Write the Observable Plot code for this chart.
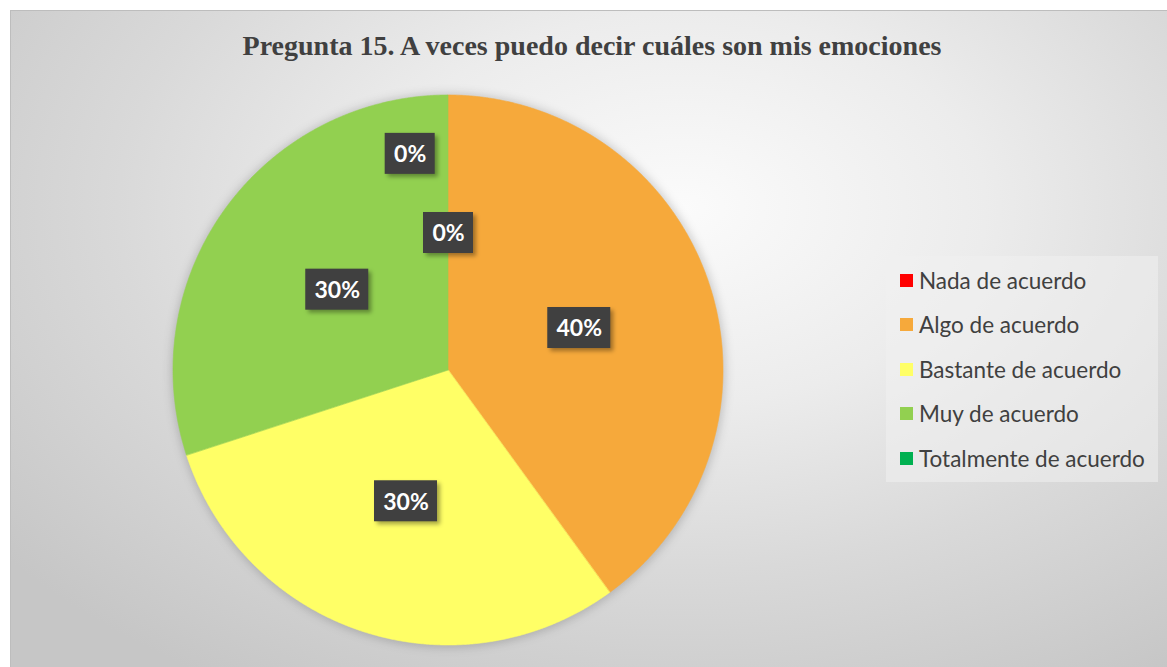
<!DOCTYPE html>
<html>
<head>
<meta charset="utf-8">
<script src="https://cdn.jsdelivr.net/npm/d3@7"></script>
<script src="https://cdn.jsdelivr.net/npm/@observablehq/plot@0.6"></script>
<style>
html, body { margin: 0; padding: 0; background: #ffffff; width: 1167px; height: 667px; overflow: hidden; }
#frame { position: absolute; left: 10px; top: 10px; width: 1157px; height: 657px;
  border-top: 1px solid #bdbdbd; border-left: 1px solid #bdbdbd;
  background: radial-gradient(ellipse 75% 85% at 58% 30%, #fbfbfb 0%, #ececec 35%, #d9d9d9 65%, #c6c6c6 100%); }
#title { position: absolute; left: 10px; top: 31px; width: 1164px; text-align: center;
  font-family: "Liberation Serif", "Times New Roman", serif; font-weight: bold; font-size: 28px; line-height: 30px; color: #404040; }
#chart { position: absolute; left: 0; top: 0; }
#legend { position: absolute; left: 886px; top: 256px; width: 272px; height: 226px; background: rgba(240,240,240,0.55); }
.item { position: absolute; left: 14px; height: 24px; display: flex; align-items: center;
  font-family: Lato, "Open Sans", sans-serif; font-size: 22.5px; color: #404040; white-space: nowrap; }
.sw { width: 13px; height: 13px; margin-right: 6px; flex: none; }
</style>
</head>
<body>
<div id="frame"></div>
<div id="title"></div>
<div id="chart"></div>
<div id="legend"></div>
<script>
const title = "Pregunta 15. A veces puedo decir cuáles son mis emociones";
const categories = ["Nada de acuerdo", "Algo de acuerdo", "Bastante de acuerdo", "Muy de acuerdo", "Totalmente de acuerdo"];
const percents = [0, 40, 30, 30, 0];
const colors = ["#FF0000", "#F6A93B", "#FFFF66", "#92D050", "#00B050"];

document.getElementById("title").textContent = title;

// legend
const legend = document.getElementById("legend");
categories.forEach((c, i) => {
  const row = document.createElement("div");
  row.className = "item";
  row.style.top = (12 + i * 44.5) + "px";
  const sw = document.createElement("span");
  sw.className = "sw";
  sw.style.background = colors[i];
  const t = document.createElement("span");
  t.textContent = c;
  row.appendChild(sw); row.appendChild(t);
  legend.appendChild(row);
});

// geometry
const cx = 448, cy = 370, R = 275;
const data = categories.map((c, i) => ({cat: c, value: percents[i], color: colors[i]}));
const arcs = d3.pie().sort(null).value(d => d.value)(data);

const sliceMarks = [];
arcs.forEach(a => {
  if (a.endAngle - a.startAngle <= 0) return;
  const pts = [];
  const n = Math.max(2, Math.ceil((a.endAngle - a.startAngle) / 0.004));
  for (let k = 0; k <= n; k++) {
    const t = a.startAngle + (a.endAngle - a.startAngle) * k / n;
    pts.push({x: Math.sin(t), y: Math.cos(t), x0: 0, y0: 0});
  }
  sliceMarks.push(Plot.area(pts, {x1: "x", y1: "y", x2: "x0", y2: "y0", fill: a.data.color, stroke: a.data.color, strokeWidth: 0.6}));
});

// labels
const labels = [];
arcs.forEach(a => {
  const txt = Math.round(a.data.value) + "%";
  const w = (13 * txt.length + 24) / R, h = 41 / R;
  let mid = (a.startAngle + a.endAngle) / 2, r = 0.5;
  let x = r * Math.sin(mid), y = r * Math.cos(mid);
  const hit = labels.some(l => Math.abs(l.x - x) < (l.w + w) / 2 && Math.abs(l.y - y) < (l.h + h) / 2);
  if (hit) { r = 0.8; mid -= 0.175; x = r * Math.sin(mid); y = r * Math.cos(mid); }
  labels.push({txt, x, y, w, h, x1: x - w / 2, x2: x + w / 2, y1: y - h / 2, y2: y + h / 2});
});
const shadowOff = 3 / R;
const labelShadows = labels.map(l => ({x1: l.x1 + shadowOff, x2: l.x2 + shadowOff, y1: l.y1 - shadowOff, y2: l.y2 - shadowOff}));

const plot = Plot.plot({
  width: 1167, height: 667, margin: 0,
  style: {background: "transparent", overflow: "visible"},
  x: {domain: [-1, 1], range: [cx - R, cx + R], axis: null},
  y: {domain: [-1, 1], range: [cy + R, cy - R], axis: null},
  marks: [
    Plot.dot([{x: 0, y: 0}], {x: "x", y: "y", r: R + 2, fill: "#000", fillOpacity: 0.18, stroke: null}),
    ...sliceMarks,
    Plot.rect(labelShadows, {x1: "x1", x2: "x2", y1: "y1", y2: "y2", fill: "#000", fillOpacity: 0.35}),
    Plot.rect(labels, {x1: "x1", x2: "x2", y1: "y1", y2: "y2", fill: "#404040"}),
    Plot.text(labels, {x: "x", y: "y", text: "txt", fill: "white", fontSize: 23, fontWeight: "bold", fontFamily: "Lato, 'Open Sans', sans-serif", dy: 1})
  ]
});
document.getElementById("chart").appendChild(plot);
const svg = d3.select(plot);
const groups = plot.querySelectorAll(":scope > g");
const defs = svg.insert("defs", ":first-child");
defs.append("filter").attr("id", "pieblur").attr("x", "-20%").attr("y", "-20%").attr("width", "140%").attr("height", "140%")
  .append("feGaussianBlur").attr("stdDeviation", 5);
defs.append("filter").attr("id", "boxblur").attr("x", "-30%").attr("y", "-30%").attr("width", "160%").attr("height", "160%")
  .append("feGaussianBlur").attr("stdDeviation", 2);
if (groups.length >= 3 + sliceMarks.length) {
  groups[0].setAttribute("filter", "url(#pieblur)");
  groups[1 + sliceMarks.length].setAttribute("filter", "url(#boxblur)");
}
</script>
</body>
</html>
